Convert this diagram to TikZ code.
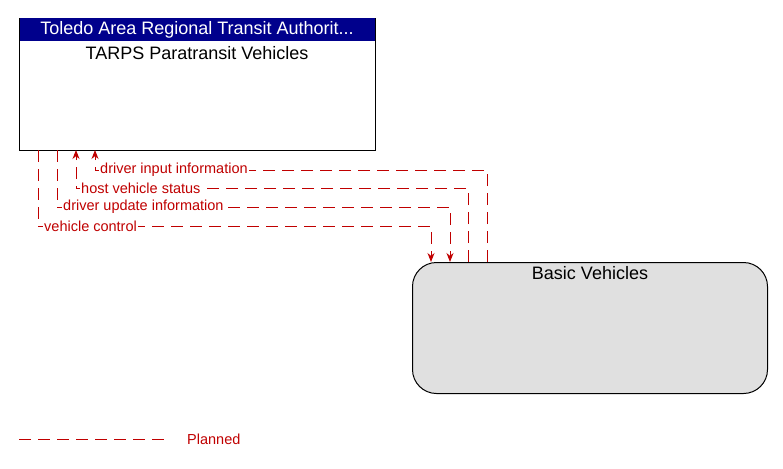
\documentclass[tikz,border=0pt]{standalone}
\usepackage{fontspec}
\setmainfont{Liberation Sans}
\usetikzlibrary{arrows.meta}
\definecolor{flow}{RGB}{192,0,0}
\definecolor{hdr}{RGB}{0,0,140}
\begin{document}
\begin{tikzpicture}[x=1pt,y=-1pt,
  flowline/.style={draw=flow,dash pattern=on 12pt off 7pt,line width=1pt},
  arr/.style={-{Stealth[length=9pt,width=7pt]}},
  lbl/.style={text=flow,font=\fontsize{14.5}{16}\selectfont,fill=white,inner sep=1pt,anchor=west}]
\useasboundingbox (0,0) rectangle (783,468);
\node[draw,line width=1pt,minimum width=356pt,minimum height=132pt,anchor=north west,inner sep=0] (top) at (19,18) {};
\fill[hdr] (19.5,18.5) rectangle (374.5,41);
\node[text=white,font=\fontsize{18}{20}\selectfont] (hd) at (197,30) {Toledo Area Regional Transit Authorit...};
\node[font=\fontsize{18}{20}\selectfont] (tt) at (197,53) {TARPS Paratransit Vehicles};
\node[draw,line width=1pt,fill=black!12,rounded corners=24pt,minimum width=355pt,minimum height=131pt,anchor=north west,inner sep=0] (bv) at (412,262) {};
\node[font=\fontsize{18}{20}\selectfont] (bt) at (590,273) {Basic Vehicles};
\coordinate (a1) at (487,262); \coordinate (a2) at (95,150);
\draw[flowline,arr] (a1) -- (487,170) -- (95,170) -- (a2);
\node[lbl] at (99,170) {driver input information};
\coordinate (b1) at (468,262); \coordinate (b2) at (76,150);
\draw[flowline,arr] (b1) -- (468,188) -- (76,188) -- (b2);
\node[lbl] at (80,188) {host vehicle status};
\coordinate (c1) at (57,150); \coordinate (c2) at (450,262);
\draw[flowline,arr] (c1) -- (57,207) -- (450,207) -- (c2);
\node[lbl] at (62,207) {driver update information};
\coordinate (d1) at (38,150); \coordinate (d2) at (431,262);
\draw[flowline,arr] (d1) -- (38,226) -- (431,226) -- (d2);
\node[lbl] at (43,226) {vehicle control};
\coordinate (l1) at (19,439); \coordinate (l2) at (170,439);
\draw[flowline] (l1) -- (l2);
\node[lbl,fill=none] at (186,439) {Planned};
\end{tikzpicture}
\end{document}
